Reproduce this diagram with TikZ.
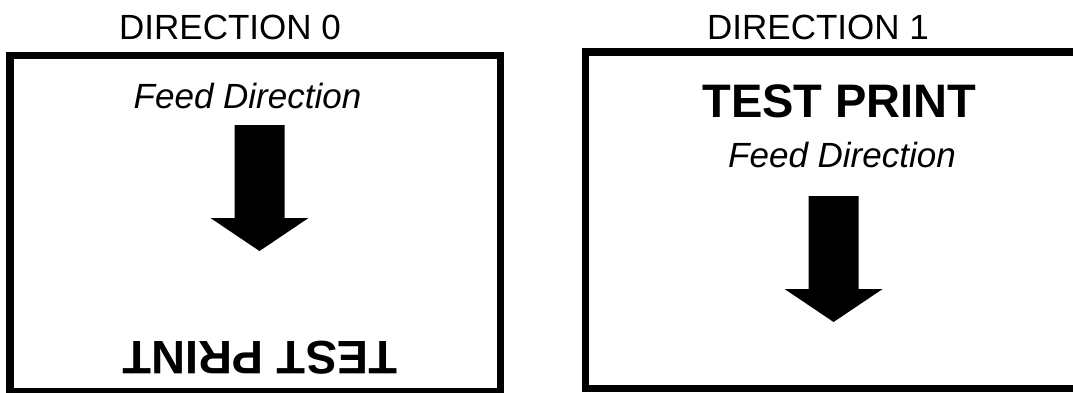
\documentclass[tikz,border=0pt]{standalone}
\usepackage{fontspec}
\setmainfont{Liberation Sans}
\usetikzlibrary{calc}
\tikzset{frame/.style={draw,line width=7.2pt},
         head/.style={font=\fontsize{35}{35}\selectfont,inner sep=0pt,anchor=base},
         feed/.style={font=\fontsize{35}{35}\selectfont\itshape,inner sep=0pt,anchor=base},
         test/.style={font=\fontsize{47}{47}\selectfont\bfseries,inner sep=0pt,anchor=base},
         feedarrow/.pic={\fill (-25,0) -- (25,0) -- (25,93) -- (49,93) -- (0,126)
                               -- (-49,93) -- (-25,93) -- cycle;}
         }

\begin{document}
\begin{tikzpicture}[x=1pt,y=-1pt]
    \useasboundingbox (0,0) rectangle (1073,392);
    \clip (0,0) rectangle (1073,392);
        % direction 0
        \draw[frame] (10,55.5) rectangle (500.5,391.5);
        \node[head] (H0) at (230,39.5) {DIRECTION 0};
        \node[feed] (F0) at (247.5,108.5) {Feed Direction};
        \coordinate (A0) at (259.5,125);
        \pic at (A0) {feedarrow};
        \node[test,rotate=180] (T0) at (260,341) {TEST PRINT};

        % direction 1
        \draw[frame] (585.5,52) rectangle (1078,388.5);
        \node[head] (H1) at (818,39.5) {DIRECTION 1};
        \node[test] (T1) at (839.5,117) {TEST PRINT};
        \node[feed] (F1) at (842,167) {Feed Direction};
        \coordinate (A1) at (833.6,196);
        \pic at (A1) {feedarrow};
\end{tikzpicture}
\end{document}
